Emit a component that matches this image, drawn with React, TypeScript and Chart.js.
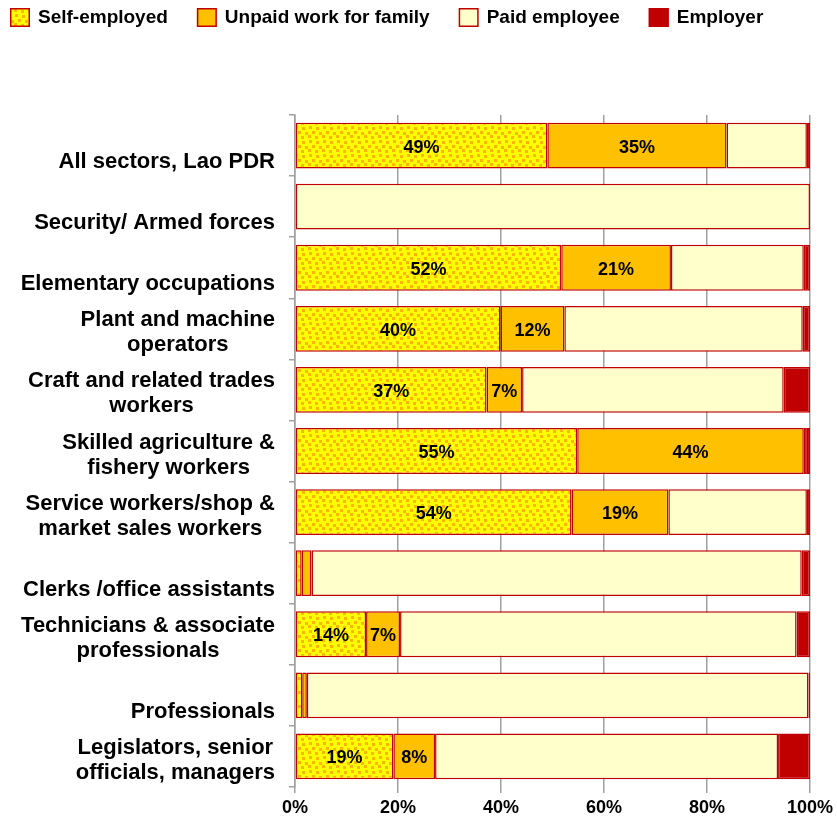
import React, { useEffect, useRef } from "react";
import { Chart, registerables } from "chart.js";

Chart.register(...registerables);

const categories: string[][] = [
  ["", "All sectors, Lao PDR"],
  ["", "Security/ Armed forces"],
  ["", "Elementary occupations"],
  ["Plant and machine", "operators"],
  ["Craft and related trades", "workers"],
  ["Skilled agriculture &", "fishery workers"],
  ["Service workers/shop &", "market sales workers"],
  ["", "Clerks /office assistants"],
  ["Technicians & associate", "professionals"],
  ["", "Professionals"],
  ["Legislators, senior", "officials, managers"],
];

const seriesNames = ["Self-employed", "Unpaid work for family", "Paid employee", "Employer"];

const selfEmployed = [49.0, 0, 51.7, 39.9, 37.2, 54.8, 53.7, 1.3, 13.8, 1.4, 19.1];
const unpaidFamily = [34.8, 0, 21.3, 12.4, 6.9, 44.0, 18.8, 1.9, 6.6, 0.9, 8.1];
const paidEmployee = [15.6, 100, 25.8, 46.3, 50.8, 0.6, 26.9, 95.2, 77.0, 97.4, 66.6];
const employer = [0.6, 0, 1.2, 1.4, 5.1, 0.6, 0.6, 1.6, 2.6, 0.3, 6.2];

const xTicks = [0, 20, 40, 60, 80, 100];

const FONT = "'Liberation Sans', Arial, sans-serif";
const BORDER = "#C00000";

function makePattern(): CanvasPattern | string {
  const c = document.createElement("canvas");
  c.width = 14;
  c.height = 14;
  const g = c.getContext("2d");
  if (!g) return "#FFFF00";
  g.fillStyle = "#FFFF00";
  g.fillRect(0, 0, 14, 14);
  g.fillStyle = "#FFB400";
  const spots = [
    [1, 0],
    [8, 1],
    [4, 5],
    [11, 6],
    [0, 9],
    [7, 10],
  ];
  spots.forEach(([x, y]) => g.fillRect(x, y, 3, 3));
  const p = g.createPattern(c, "repeat");
  return p || "#FFFF00";
}

export default function App() {
  const ref = useRef<HTMLCanvasElement | null>(null);

  useEffect(() => {
    if (!ref.current) return;
    const pattern = makePattern();
    const fills: (CanvasPattern | string)[] = [pattern, "#FFC000", "#FFFFCC", "#C00000"];
    const values = [selfEmployed, unpaidFamily, paidEmployee, employer];

    const labelPlugin = {
      id: "customText",
      afterDatasetsDraw(chart: any) {
        const ctx = chart.ctx as CanvasRenderingContext2D;
        ctx.save();
        ctx.font = `bold 18px ${FONT}`;
        ctx.fillStyle = "#000";
        ctx.textAlign = "center";
        ctx.textBaseline = "middle";
        [0, 1].forEach((di) => {
          const meta = chart.getDatasetMeta(di);
          meta.data.forEach((bar: any, i: number) => {
            const v = values[di][i];
            if (v < 5) return;
            const cx = (bar.x + bar.base) / 2;
            ctx.fillText(Math.round(v) + "%", cx, bar.y + 2);
          });
        });
        ctx.restore();
      },
      afterDraw(chart: any) {
        const ctx = chart.ctx as CanvasRenderingContext2D;
        const ys = chart.scales.y;
        ctx.save();
        ctx.font = `bold 22px ${FONT}`;
        ctx.fillStyle = "#000";
        ctx.textAlign = "center";
        ctx.textBaseline = "middle";
        const right = ys.right - 6 - 14;
        categories.forEach((lines, i) => {
          const w = Math.max(...lines.map((l) => ctx.measureText(l).width));
          const cx = right - w / 2;
          const cy = ys.getPixelForValue(i) + 4;
          lines.forEach((l, j) => {
            if (l) ctx.fillText(l, cx, cy + (j - (lines.length - 1) / 2) * 25);
          });
        });
        ctx.font = `bold 19px ${FONT}`;
        ctx.textAlign = "left";
        let x = 10;
        seriesNames.forEach((name, k) => {
          ctx.fillStyle = fills[k] as any;
          ctx.fillRect(x, 8, 20, 19);
          ctx.strokeStyle = BORDER;
          ctx.lineWidth = 1.5;
          ctx.strokeRect(x + 0.75, 8.75, 18.5, 17.5);
          ctx.fillStyle = "#000";
          ctx.fillText(name, x + 28, 18);
          x += 28 + ctx.measureText(name).width + 29;
        });
        ctx.restore();
      },
    };

    const chart = new Chart(ref.current, {
      type: "bar",
      data: {
        labels: categories,
        datasets: values.map((vals, k) => ({
          label: seriesNames[k],
          data: vals,
          backgroundColor: fills[k] as any,
          borderColor: BORDER,
          borderWidth: 1.5,
          borderSkipped: false,
          barPercentage: 0.75,
          categoryPercentage: 1,
        })),
      },
      options: {
        indexAxis: "y",
        responsive: true,
        maintainAspectRatio: false,
        animation: false,
        layout: { padding: { top: 115, right: 26, left: 0, bottom: 0 } },
        plugins: {
          legend: { display: false },
          tooltip: { enabled: false },
        },
        scales: {
          x: {
            stacked: true,
            min: 0,
            max: 100,
            afterBuildTicks: (s: any) => {
              s.ticks = xTicks.map((v) => ({ value: v }));
            },
            afterFit: (s: any) => {
              s.height = 32;
            },
            border: { display: false },
            grid: {
              display: true,
              drawOnChartArea: true,
              drawTicks: true,
              tickLength: 6,
              color: "#A0A0A0",
              lineWidth: 1.5,
            },
            ticks: {
              padding: 4,
              color: "#000",
              font: { family: FONT, size: 18, weight: "bold" },
              callback: (v: any) => v + "%",
              maxRotation: 0,
            },
          },
          y: {
            stacked: true,
            afterFit: (s: any) => {
              s.width = 295;
            },
            border: { display: true, color: "#A0A0A0", width: 1.5 },
            grid: {
              offset: true,
              drawOnChartArea: false,
              drawTicks: true,
              tickLength: 6,
              color: "#A0A0A0",
              lineWidth: 1.5,
            },
            ticks: { display: false },
          },
        },
      },
      plugins: [labelPlugin],
    } as any);

    return () => chart.destroy();
  }, []);

  return (
    <div style={{ position: "absolute", left: 0, top: 0, width: 837, height: 819 }}>
      <canvas ref={ref} />
    </div>
  );
}
